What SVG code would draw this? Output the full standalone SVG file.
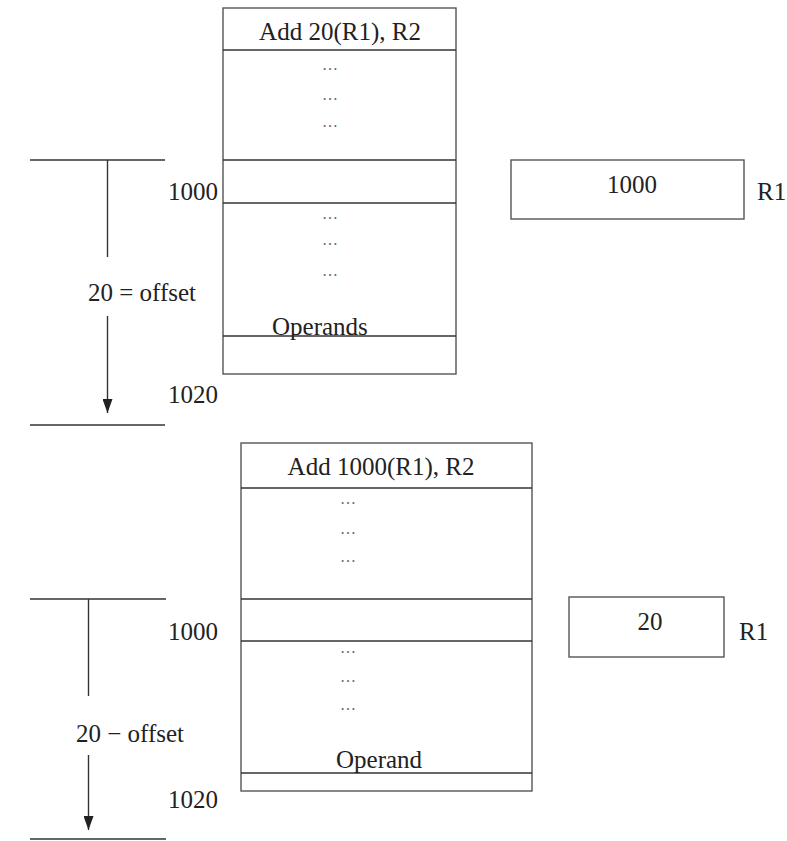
<svg xmlns="http://www.w3.org/2000/svg" width="787" height="841" viewBox="0 0 787 841">
<style>
.ln{stroke:#333;stroke-width:1.4;fill:none}
.bx{stroke:#555;stroke-width:1.4;fill:#fff}
.t{font-family:"Liberation Serif","Times New Roman",serif;font-size:25px;fill:#222}
.d{font-family:"Liberation Serif","Times New Roman",serif;font-size:16px;fill:#666;text-anchor:middle}
.m{text-anchor:middle}
</style>
<defs>
<marker id="ah" markerWidth="14" markerHeight="10" refX="14" refY="5" orient="auto" markerUnits="userSpaceOnUse" viewBox="0 0 14 10">
<path d="M0,0 L14,5 L0,10 Z" fill="#222"/>
</marker>
</defs>
<rect width="787" height="841" fill="#fff"/>

<g id="memory-top">
<rect class="bx" x="223" y="8" width="233" height="366"/>
<line class="ln" x1="223" y1="50" x2="456" y2="50"/>
<line class="ln" x1="223" y1="160" x2="456" y2="160"/>
<line class="ln" x1="223" y1="203" x2="456" y2="203"/>
<line class="ln" x1="223" y1="336" x2="456" y2="336"/>
<text class="t m" x="340" y="40">Add 20(R1), R2</text>
<text class="d" x="330" y="70">…</text>
<text class="d" x="330" y="100">…</text>
<text class="d" x="330" y="127">…</text>
<text class="d" x="330" y="219">…</text>
<text class="d" x="330" y="245">…</text>
<text class="d" x="330" y="276">…</text>
<text class="t" x="272" y="335">Operands</text>
</g>

<g id="register-top">
<rect class="bx" x="511" y="160" width="233" height="59"/>
<text class="t m" x="632" y="193">1000</text>
<text class="t" x="757" y="200">R1</text>
</g>

<g id="offset-top">
<line class="ln" x1="30" y1="160" x2="165" y2="160"/>
<line class="ln" x1="30" y1="425" x2="165" y2="425"/>
<text class="t" x="168" y="200">1000</text>
<text class="t" x="88" y="301">20 = offset</text>
<text class="t" x="168" y="403">1020</text>
</g>

<g id="memory-bottom">
<rect class="bx" x="241" y="443" width="291" height="348"/>
<line class="ln" x1="241" y1="488" x2="532" y2="488"/>
<line class="ln" x1="241" y1="599" x2="532" y2="599"/>
<line class="ln" x1="241" y1="641" x2="532" y2="641"/>
<line class="ln" x1="241" y1="773" x2="532" y2="773"/>
<text class="t m" x="381" y="475">Add 1000(R1), R2</text>
<text class="d" x="348" y="504">…</text>
<text class="d" x="348" y="534">…</text>
<text class="d" x="348" y="562">…</text>
<text class="d" x="348" y="653">…</text>
<text class="d" x="348" y="682">…</text>
<text class="d" x="348" y="710">…</text>
<text class="t" x="336" y="768">Operand</text>
</g>

<g id="register-bottom">
<rect class="bx" x="569" y="597" width="155" height="60"/>
<text class="t m" x="650" y="630">20</text>
<text class="t" x="739" y="640">R1</text>
</g>

<g id="offset-bottom">
<line class="ln" x1="30" y1="599" x2="166" y2="599"/>
<line class="ln" x1="30" y1="839" x2="166" y2="839"/>
<text class="t" x="168" y="640">1000</text>
<text class="t" x="76" y="742">20 − offset</text>
<text class="t" x="168" y="808">1020</text>
</g>

<g id="connectors">
<line class="ln" x1="107.5" y1="160" x2="107.5" y2="257"/>
<line class="ln" x1="107.5" y1="316" x2="107.5" y2="413" marker-end="url(#ah)"/>
<line class="ln" x1="88.5" y1="599" x2="88.5" y2="696"/>
<line class="ln" x1="88.5" y1="755" x2="88.5" y2="830" marker-end="url(#ah)"/>
</g>
</svg>
